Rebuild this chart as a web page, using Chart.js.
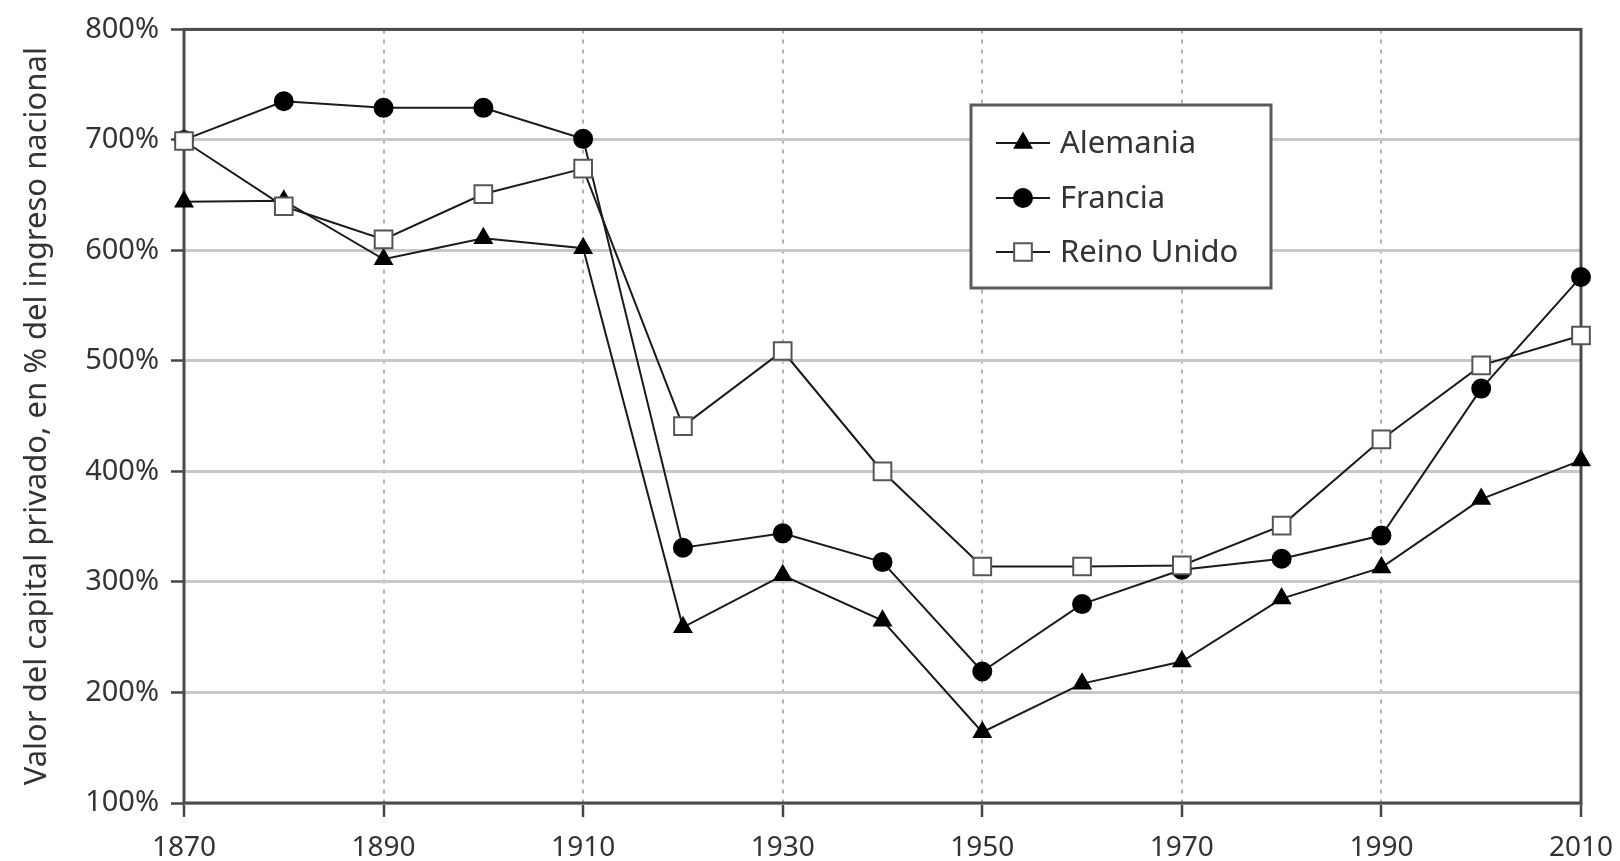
<!DOCTYPE html>
<html lang="es">
<head>
  <meta charset="UTF-8">
  <title>Valor del capital privado</title>
  <script src="https://cdn.jsdelivr.net/npm/chart.js"></script>
  <style>
    html, body { margin: 0; padding: 0; background: #fff; }
    #wrap { width: 1620px; height: 861px; }
  </style>
</head>
<body>
  <div id="wrap"><canvas id="chart" width="1620" height="861"></canvas></div>

  <script>
    // datos (en % del ingreso nacional)
    const years      = [1870, 1880, 1890, 1900, 1910, 1920, 1930, 1940, 1950, 1960, 1970, 1980, 1990, 2000, 2010];
    const alemania   = [644, 645, 592, 611, 602, 259, 306, 265, 164, 208, 228, 285, 313, 375, 410];
    const francia    = [700, 735, 729, 729, 701, 331, 344, 318, 219, 280, 311, 321, 342, 475, 576];
    const reinoUnido = [699, 640, 610, 651, 674, 441, 509, 400, 314, 314, 315, 351, 429, 496, 523];

    const yMin = 100, yMax = 800, yStep = 100;
    const xMin = 1870, xMax = 2010, xStep = 20;

    const labelsLegend = ['Alemania', 'Francia', 'Reino Unido'];
    const FONT = "'Noto Sans', 'Open Sans', sans-serif";
    const TEXT = '#333333';

    function toPoints(vals) {
      return years.map((y, i) => ({ x: y, y: vals[i] }));
    }

    const styles = {
      'Alemania':    { pointStyle: 'triangle', radius: 9.5, bg: '#000000', border: '#000000' },
      'Francia':     { pointStyle: 'circle',   radius: 9,   bg: '#000000', border: '#000000' },
      'Reino Unido': { pointStyle: 'rect',     radius: 12.5, bg: '#ffffff', border: '#555555' }
    };

    function makeSet(name, vals) {
      const s = styles[name];
      return {
        label: name,
        data: toPoints(vals),
        borderColor: '#1a1a1a',
        borderWidth: 2,
        pointStyle: s.pointStyle,
        pointRadius: s.radius,
        pointBackgroundColor: s.bg,
        pointBorderColor: s.border,
        pointBorderWidth: 2,
        fill: false,
        tension: 0,
        clip: false
      };
    }

    function drawMarker(ctx, name, x, y) {
      const s = styles[name];
      const opts = {
        pointStyle: s.pointStyle, radius: s.radius, rotation: 0, borderWidth: 2
      };
      ctx.save();
      ctx.fillStyle = s.bg;
      ctx.strokeStyle = s.border;
      ctx.lineWidth = 2;
      if (Chart.helpers && Chart.helpers.drawPoint) {
        Chart.helpers.drawPoint(ctx, opts, x, y);
      } else {
        ctx.beginPath();
        ctx.arc(x, y, s.radius, 0, Math.PI * 2);
        ctx.fill();
        ctx.stroke();
      }
      ctx.restore();
    }

    // marco del grafico (4 lados)
    const framePlugin = {
      id: 'frame',
      beforeDatasetsDraw(chart) {
        const { ctx, chartArea: a } = chart;
        ctx.save();
        ctx.strokeStyle = '#4a4a4a';
        ctx.lineWidth = 3;
        ctx.strokeRect(a.left, a.top, a.right - a.left, a.bottom - a.top);
        ctx.restore();
      }
    };

    // leyenda dentro del area del grafico
    const legendPlugin = {
      id: 'boxLegend',
      afterDraw(chart) {
        const ctx = chart.ctx;
        const box = { x: 971, y: 105, w: 300, h: 183 };
        const rows = [143, 198, 252];
        ctx.save();
        ctx.fillStyle = '#ffffff';
        ctx.fillRect(box.x, box.y, box.w, box.h);
        ctx.strokeStyle = '#5a5a5a';
        ctx.lineWidth = 3;
        ctx.strokeRect(box.x, box.y, box.w, box.h);
        ctx.font = '31px ' + FONT;
        ctx.textBaseline = 'middle';
        ctx.textAlign = 'left';
        labelsLegend.forEach((name, i) => {
          const ry = rows[i];
          ctx.strokeStyle = '#1a1a1a';
          ctx.lineWidth = 2;
          ctx.beginPath();
          ctx.moveTo(996, ry);
          ctx.lineTo(1050, ry);
          ctx.stroke();
          drawMarker(ctx, name, 1023, ry);
          ctx.fillStyle = TEXT;
          ctx.fillText(name, 1060, ry + 1);
        });
        ctx.restore();
      }
    };

    const ctx = document.getElementById('chart').getContext('2d');
    new Chart(ctx, {
      type: 'line',
      data: {
        datasets: [
          makeSet('Reino Unido', reinoUnido),
          makeSet('Francia', francia),
          makeSet('Alemania', alemania)
        ]
      },
      options: {
        responsive: false,
        animation: false,
        devicePixelRatio: 1,
        layout: { padding: { top: 28, right: 39, bottom: 0, left: 0 } },
        plugins: {
          legend: { display: false },
          tooltip: { enabled: false }
        },
        scales: {
          x: {
            type: 'linear',
            min: xMin,
            max: xMax,
            afterFit(scale) {
              scale.height = 58;
              scale.paddingLeft = 0;
              scale.paddingRight = 0;
            },
            ticks: {
              stepSize: xStep,
              maxRotation: 0,
              padding: 14,
              color: TEXT,
              font: { family: FONT, size: 28 },
              callback: v => String(v)
            },
            grid: {
              color: '#b0b0b0',
              lineWidth: 2,
              tickLength: 14,
              tickColor: '#444444',
              tickWidth: 2.5,
              tickBorderDash: []
            },
            border: { display: false, dash: [4, 6] }
          },
          y: {
            min: yMin,
            max: yMax,
            afterFit(scale) { scale.width = 184; },
            title: {
              display: true,
              text: 'Valor del capital privado, en % del ingreso nacional',
              color: TEXT,
              font: { family: FONT, size: 31 },
              padding: { top: 19, bottom: 0 }
            },
            ticks: {
              stepSize: yStep,
              padding: 12,
              color: TEXT,
              font: { family: FONT, size: 29 },
              callback: v => v + '%'
            },
            grid: {
              color: '#c8c8c8',
              lineWidth: 3,
              tickLength: 13,
              tickColor: '#444444',
              tickWidth: 2.5
            },
            border: { display: false }
          }
        }
      },
      plugins: [framePlugin, legendPlugin]
    });
  </script>
</body>
</html>
